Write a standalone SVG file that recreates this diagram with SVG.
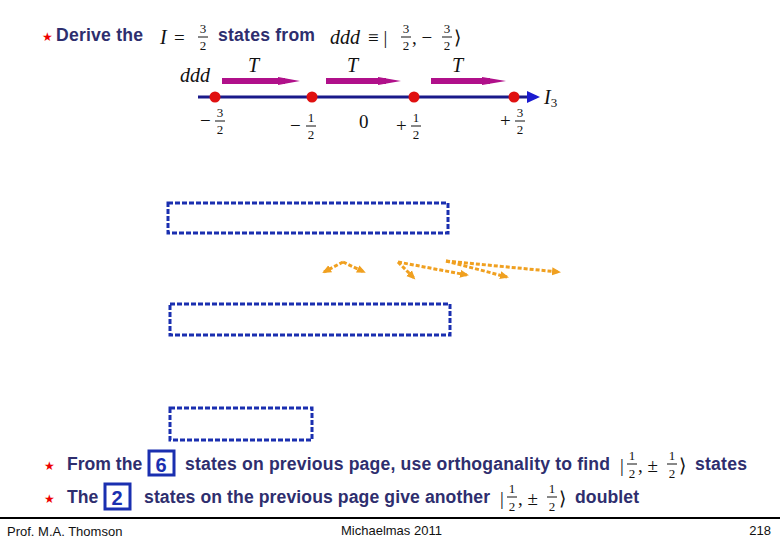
<svg xmlns="http://www.w3.org/2000/svg" width="780" height="540" viewBox="0 0 780 540">
<style>
.t{font-family:"Liberation Sans",Arial,sans-serif;font-weight:bold;font-size:17.6px;fill:#2e2e6e}
.m{font-family:"Liberation Serif","Times New Roman",serif;font-size:19px;fill:#111}
.mi{font-family:"Liberation Serif","Times New Roman",serif;font-style:italic;font-size:20px;fill:#111}
.f{font-family:"Liberation Serif","Times New Roman",serif;font-size:13px;fill:#111;text-anchor:middle}
.star{fill:#e00;font-family:"DejaVu Sans",sans-serif;font-size:12px}
.box{fill:none;stroke:#1a2fb0;stroke-width:3;stroke-dasharray:5,2}
.or{stroke:#f0a020;stroke-width:3;stroke-dasharray:4,2;fill:none;marker-end:url(#oa)}
.mg{stroke:#b0108a;stroke-width:6}
.ft{font-family:"Liberation Sans",Arial,sans-serif;font-size:13px;fill:#111}
.fl{stroke:#111;stroke-width:1}
</style>
<defs>
<marker id="oa" markerUnits="userSpaceOnUse" markerWidth="10" markerHeight="10" refX="7" refY="5" orient="auto"><path d="M0,1 L9,5 L0,9 z" fill="#f0a020"/></marker>
</defs>
<rect width="780" height="540" fill="#fff"/>
<g id="title">
<text x="42" y="41" class="star">★</text>
<text x="56" y="41" class="t" textLength="87">Derive the</text>
<text x="160" y="44" class="mi">I</text><text x="174" y="44" class="m">=</text>
<text x="203" y="33" class="f">3</text><line x1="198" y1="37" x2="208" y2="37" class="fl"/><text x="203" y="50" class="f">2</text>
<text x="218" y="41" class="t" textLength="97">states from</text>
<text x="330" y="44" class="mi">ddd</text><text x="368" y="44" class="m">≡ |</text>
<text x="406" y="33" class="f">3</text><line x1="401" y1="37" x2="411" y2="37" class="fl"/><text x="406" y="50" class="f">2</text>
<text x="412" y="44" class="m">, −</text>
<text x="447" y="33" class="f">3</text><line x1="442" y1="37" x2="452" y2="37" class="fl"/><text x="447" y="50" class="f">2</text>
<text x="454" y="44" class="m">⟩</text>
</g>
<g id="axis">
<line x1="198" y1="97" x2="530" y2="97" stroke="#1a1a8a" stroke-width="3"/>
<path d="M527,91 L540,97 L527,103 z" fill="#1a1ad0"/>
<text x="544" y="104" class="mi">I</text><text x="554" y="107" class="f">3</text>
<text x="180" y="82" class="mi">ddd</text>
<g fill="#e01010"><circle cx="215" cy="97" r="5.5"/><circle cx="312" cy="97" r="5.5"/><circle cx="414" cy="97" r="5.5"/><circle cx="514" cy="97" r="5.5"/></g>
</g>
<g id="T-arrows">
<line x1="222" y1="81" x2="285" y2="81" class="mg"/><path d="M278,77 L300,81 L278,85 z" fill="#b0108a"/>
<line x1="326" y1="81" x2="386" y2="81" class="mg"/><path d="M378,77 L401,81 L378,85 z" fill="#b0108a"/>
<line x1="431" y1="81" x2="490" y2="81" class="mg"/><path d="M482,77 L506,81 L482,85 z" fill="#b0108a"/>
<text x="248" y="72" class="mi">T</text><text x="347" y="72" class="mi">T</text><text x="452" y="72" class="mi">T</text>
</g>
<g id="ticks">
<text x="200" y="127" class="m">−</text><text x="220" y="117" class="f">3</text><line x1="215" y1="121" x2="225" y2="121" class="fl"/><text x="220" y="134" class="f">2</text>
<text x="290" y="132" class="m">−</text><text x="311" y="122" class="f">1</text><line x1="306" y1="126" x2="316" y2="126" class="fl"/><text x="311" y="139" class="f">2</text>
<text x="359" y="128" class="m">0</text>
<text x="396" y="132" class="m">+</text><text x="416" y="122" class="f">1</text><line x1="411" y1="126" x2="421" y2="126" class="fl"/><text x="416" y="139" class="f">2</text>
<text x="500" y="127" class="m">+</text><text x="520" y="117" class="f">3</text><line x1="515" y1="121" x2="525" y2="121" class="fl"/><text x="520" y="134" class="f">2</text>
</g>
<g id="boxes">
<rect x="168" y="203" width="280" height="30" class="box"/>
<rect x="170" y="304" width="280" height="31" class="box"/>
<rect x="170" y="408" width="142" height="32" class="box"/>
</g>
<g id="connectors">
<path d="M343,262 L324,272" class="or"/>
<path d="M343,262 L364,272" class="or"/>
<path d="M398,262 L414,278" class="or"/>
<path d="M398,262 L467,275" class="or"/>
<path d="M446,261 L507,277" class="or"/>
<path d="M446,261 L559,272" class="or"/>
</g>
<g id="bullets">
<text x="44" y="470" class="star">★</text>
<text x="67" y="470" class="t">From the</text>
<rect x="149" y="451" width="25" height="24" fill="none" stroke="#1a2fb0" stroke-width="3"/>
<text x="161" y="472" class="t" text-anchor="middle" style="font-size:20px;fill:#1a2fb0">6</text>
<text x="185" y="470" class="t" textLength="425">states on previous page, use orthoganality to find</text>
<text x="620" y="472" class="m">|</text><text x="632" y="460" class="f">1</text><line x1="627" y1="464" x2="637" y2="464" class="fl"/><text x="632" y="478" class="f">2</text>
<text x="638" y="472" class="m">, ±</text><text x="672" y="460" class="f">1</text><line x1="667" y1="464" x2="677" y2="464" class="fl"/><text x="672" y="478" class="f">2</text><text x="679" y="472" class="m">⟩</text>
<text x="695" y="470" class="t" textLength="52">states</text>
<text x="44" y="503" class="star">★</text>
<text x="67" y="503" class="t">The</text>
<rect x="105" y="484" width="25" height="25" fill="none" stroke="#1a2fb0" stroke-width="3"/>
<text x="117" y="505" class="t" text-anchor="middle" style="font-size:20px;fill:#1a2fb0">2</text>
<text x="144" y="503" class="t" textLength="346">states on the previous page give another</text>
<text x="500" y="505" class="m">|</text><text x="512" y="493" class="f">1</text><line x1="507" y1="497" x2="517" y2="497" class="fl"/><text x="512" y="511" class="f">2</text>
<text x="518" y="505" class="m">, ±</text><text x="552" y="493" class="f">1</text><line x1="547" y1="497" x2="557" y2="497" class="fl"/><text x="552" y="511" class="f">2</text><text x="559" y="505" class="m">⟩</text>
<text x="575" y="503" class="t" textLength="64">doublet</text>
</g>
<g id="footer">
<line x1="0" y1="518" x2="780" y2="518" stroke="#000" stroke-width="2"/>
<text x="7" y="536" class="ft">Prof. M.A. Thomson</text>
<text x="341" y="535" class="ft">Michaelmas 2011</text>
<text x="771" y="535" class="ft" text-anchor="end">218</text>
</g>
</svg>
